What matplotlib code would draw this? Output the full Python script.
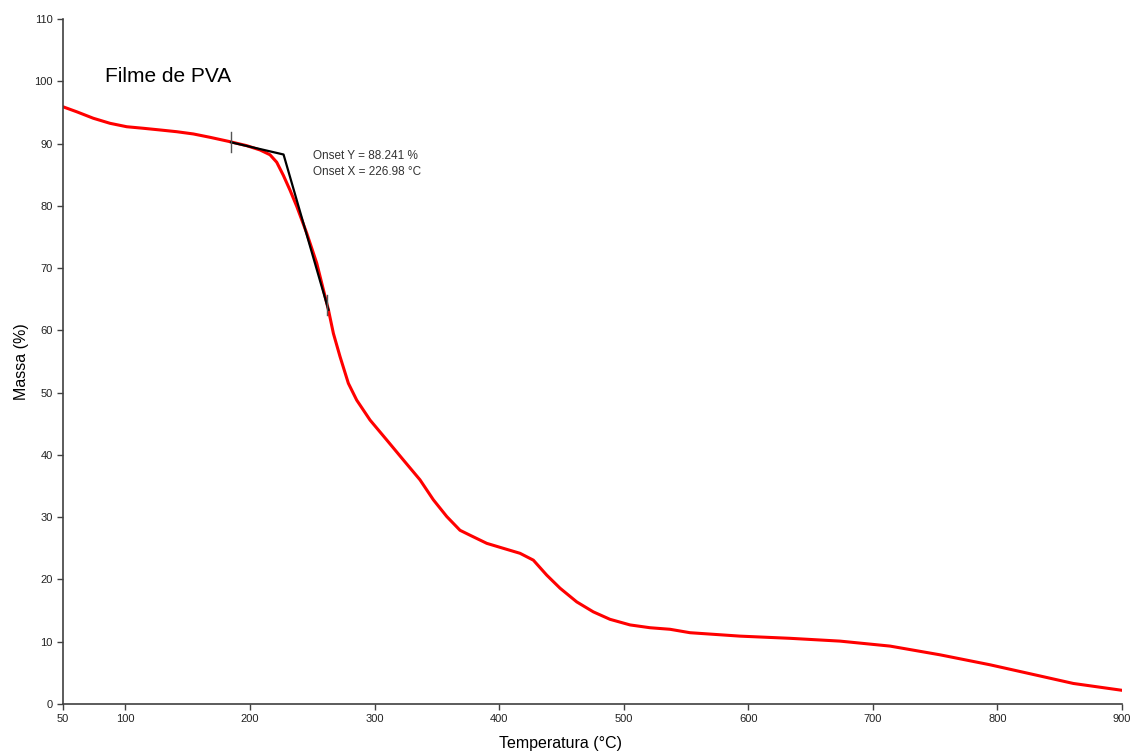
import numpy as np
import matplotlib.pyplot as plt

plt.rcParams['font.family'] = ['Liberation Sans', 'DejaVu Sans']

# TGA curve
temp = [50, 61, 74.3, 87.7, 101.1, 114.5, 127.9, 141.3, 154.6, 168, 184,
        197.4, 208.1, 216.1, 221.5, 226.8, 232.2, 237.6, 245.6, 253.6, 263,
        267, 272.3, 279, 285.7, 296.4, 309.8, 323.1, 336.5, 347.2, 358,
        368.6, 376.7, 390.1, 403.4, 416.8, 427.5, 438.2, 448.9, 462.3,
        475.6, 489, 505.1, 521.1, 537.2, 553.2, 593.4, 633.5, 673.6, 713.8,
        753.9, 794, 834.2, 860.9, 900]
mass = [95.9, 95.1, 94.06, 93.25, 92.7, 92.45, 92.18, 91.9, 91.54, 91.0,
        90.3, 89.66, 88.97, 88.2, 87.0, 84.9, 82.5, 79.9, 75.6, 70.8, 63.3,
        59.5, 55.8, 51.5, 48.8, 45.6, 42.4, 39.2, 36.0, 32.8, 30.1, 27.9,
        27.1, 25.8, 25.0, 24.2, 23.1, 20.7, 18.6, 16.4, 14.8, 13.6, 12.7,
        12.25, 12.0, 11.45, 10.9, 10.55, 10.1, 9.3, 7.9, 6.3, 4.5, 3.3, 2.2]

# onset construction
onset_x = 226.98
onset_y = 88.241
tan_x = [184.8, onset_x, 263.0]
tan_y = [90.2, onset_y, 63.3]
mark_x = [184.8, 261.8]
mark_y = [90.2, 64.0]

xticks = [50, 100, 200, 300, 400, 500, 600, 700, 800, 900]
yticks = list(range(0, 111, 10))

fig = plt.figure(figsize=(11.32, 7.54), dpi=100)
ax = fig.add_axes([0.0557, 0.0663, 0.9355, 0.9085])

ax.plot(temp, mass, color='#ff0000', lw=2.2, solid_joinstyle='round')
ax.plot(tan_x, tan_y, color='black', lw=1.6)
for mx, my in zip(mark_x, mark_y):
    ax.plot([mx, mx], [my - 1.6, my + 1.6], color='#555555', lw=1.0)

ax.text(250.4, 87.5, f'Onset Y = {onset_y:.3f} %', fontsize=8.5,
        color='#333333', va='baseline')
ax.text(250.4, 84.9, f'Onset X = {onset_x:.2f} °C', fontsize=8.5,
        color='#333333', va='baseline')
ax.text(83.7, 99.9, 'Filme de PVA', fontsize=15, color='black',
        va='baseline')

ax.set_xlim(50, 900)
ax.set_ylim(0, 110)
ax.set_xticks(xticks)
ax.set_yticks(yticks)
ax.tick_params(labelsize=8, length=4, width=1, color='#404040',
               labelcolor='#222222', direction='out')
for s in ['top', 'right']:
    ax.spines[s].set_visible(False)
for s in ['left', 'bottom']:
    ax.spines[s].set_color('#404040')
    ax.spines[s].set_linewidth(1.2)

ax.set_xlabel('Temperatura (°C)', fontsize=11.5)
ax.set_ylabel('Massa (%)', fontsize=11.5)
ax.xaxis.set_label_coords(0.47, -0.046)
ax.yaxis.set_label_coords(-0.032, 0.5)

fig.savefig('out.png', dpi=100)
